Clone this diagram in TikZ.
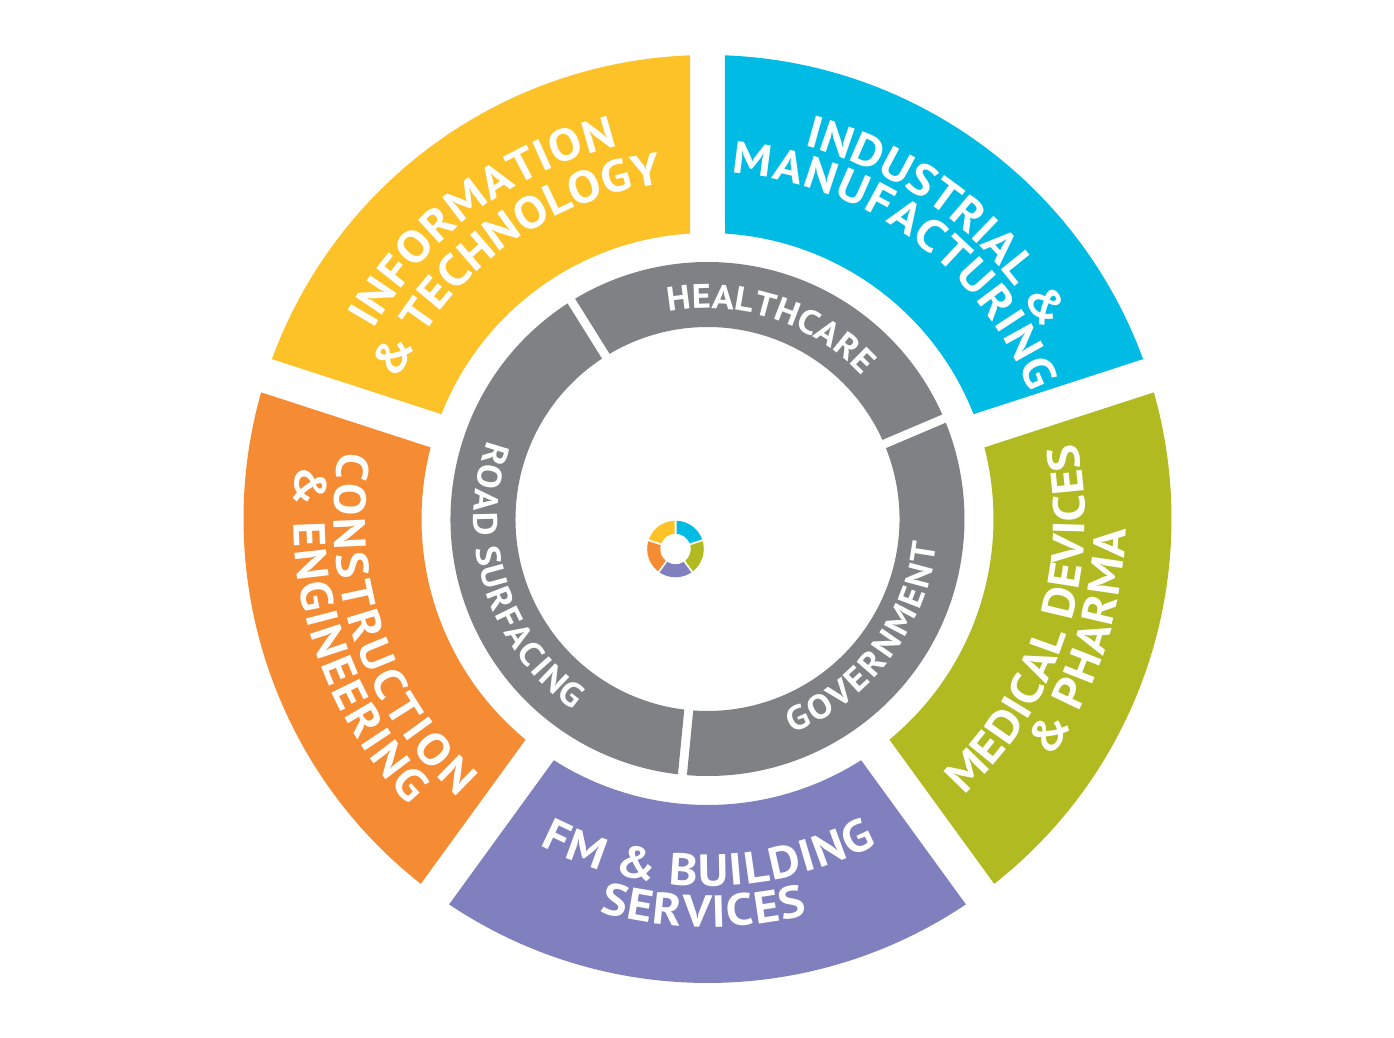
\documentclass[tikz,border=0pt]{standalone}
\usepackage{fontspec}
\newfontfamily\lbl{PT Sans}[FakeStretch=1.08]
\usetikzlibrary{decorations.text}
\definecolor{cyel}{RGB}{253,194,40}
\definecolor{cblu}{RGB}{0,188,228}
\definecolor{cgrn}{RGB}{177,187,33}
\definecolor{cpur}{RGB}{128,128,191}
\definecolor{cora}{RGB}{245,139,51}
\definecolor{cgry}{RGB}{128,129,132}
\newcommand\bigf{\lbl\bfseries\fontsize{45}{50}\selectfont}
\newcommand\smlf{\lbl\bfseries\fontsize{34}{38}\selectfont}
% #1 colour, #2 start gap angle, #3 end gap angle, #4 outer radius, #5 inner radius, #6 half gap width
\newcommand\ringseg[6]{%
  \fill[#1] ({#2+asin(#6/#4)}:#4) arc[start angle={#2+asin(#6/#4)}, end angle={#3-asin(#6/#4)}, radius=#4]
    -- ({#3-asin(#6/#5)}:#5) arc[start angle={#3-asin(#6/#5)}, end angle={#2+asin(#6/#5)}, radius=#5] -- cycle;}
% text on arc, clockwise (letters pointing outward): #1 centre angle, #2 half span, #3 radius, #4 text
\newcommand\cwtext[4]{%
  \path[decorate, decoration={text along path, text={#4}, text align=fit to path, text color=white}]
    ({#1+#2}:#3) arc[start angle={#1+#2}, end angle={#1-#2}, radius=#3];}
% text on arc, counter-clockwise (letters pointing inward)
\newcommand\ccwtext[4]{%
  \path[decorate, decoration={text along path, text={#4}, text align=fit to path, text color=white}]
    ({#1-#2}:#3) arc[start angle={#1-#2}, end angle={#1+#2}, radius=#3];}
\begin{document}
\begin{tikzpicture}[x=1pt,y=1pt]
\fill[white] (-707.5,-519) rectangle (686.5,519);
\useasboundingbox (-707.5,-519) rectangle (686.5,519);
% outer ring
\ringseg{cyel}{90}{162}{464}{286}{17.5}
\ringseg{cora}{162}{234}{464}{286}{17.5}
\ringseg{cpur}{234}{306}{464}{286}{17.5}
\ringseg{cgrn}{306}{378}{464}{286}{17.5}
\ringseg{cblu}{18}{90}{464}{286}{17.5}
% inner grey ring
\ringseg{cgry}{23}{122}{257}{192}{4.5}
\ringseg{cgry}{122}{264.4}{257}{192}{4.5}
\ringseg{cgry}{264.4}{383}{257}{192}{4.5}
% small centre ring
\begin{scope}[shift={(-32,-30)}]
\ringseg{cyel}{90}{162}{28.3}{15.3}{1}
\ringseg{cora}{162}{234}{28.3}{15.3}{1}
\ringseg{cpur}{234}{306}{28.3}{15.3}{1}
\ringseg{cgrn}{306}{378}{28.3}{15.3}{1}
\ringseg{cblu}{18}{90}{28.3}{15.3}{1}
\end{scope}
% outer labels
\cwtext{127}{23.5}{384}{|\bigf|INFORMATION}
\cwtext{127.1}{28.8}{338.5}{|\bigf|{\&} TECHNOLOGY}
\cwtext{52.85}{22.65}{385.5}{|\bigf|INDUSTRIAL {\&}}
\cwtext{53.7}{32.3}{346.5}{|\bigf|MANUFACTURING}
\ccwtext{198.85}{29.25}{373.5}{|\bigf|CONSTRUCTION}
\ccwtext{198.2}{25.6}{413.5}{|\bigf|{\&} ENGINEERING}
\ccwtext{342.25}{29.35}{377.5}{|\bigf|MEDICAL DEVICES}
\ccwtext{341.85}{16.75}{418.5}{|\bigf|{\&} PHARMA}
\ccwtext{270.2}{27.4}{367}{|\bigf|FM {\&} BUILDING}
\ccwtext{269.4}{14.8}{408}{|\bigf|SERVICES}
% inner labels
\cwtext{72.5}{28.2}{210.5}{|\smlf|HEALTHCARE}
\ccwtext{197.65}{37.35}{233.5}{|\smlf|ROAD SURFACING}
\ccwtext{322.7}{31.1}{230.5}{|\smlf|GOVERNMENT}
\end{tikzpicture}
\end{document}
